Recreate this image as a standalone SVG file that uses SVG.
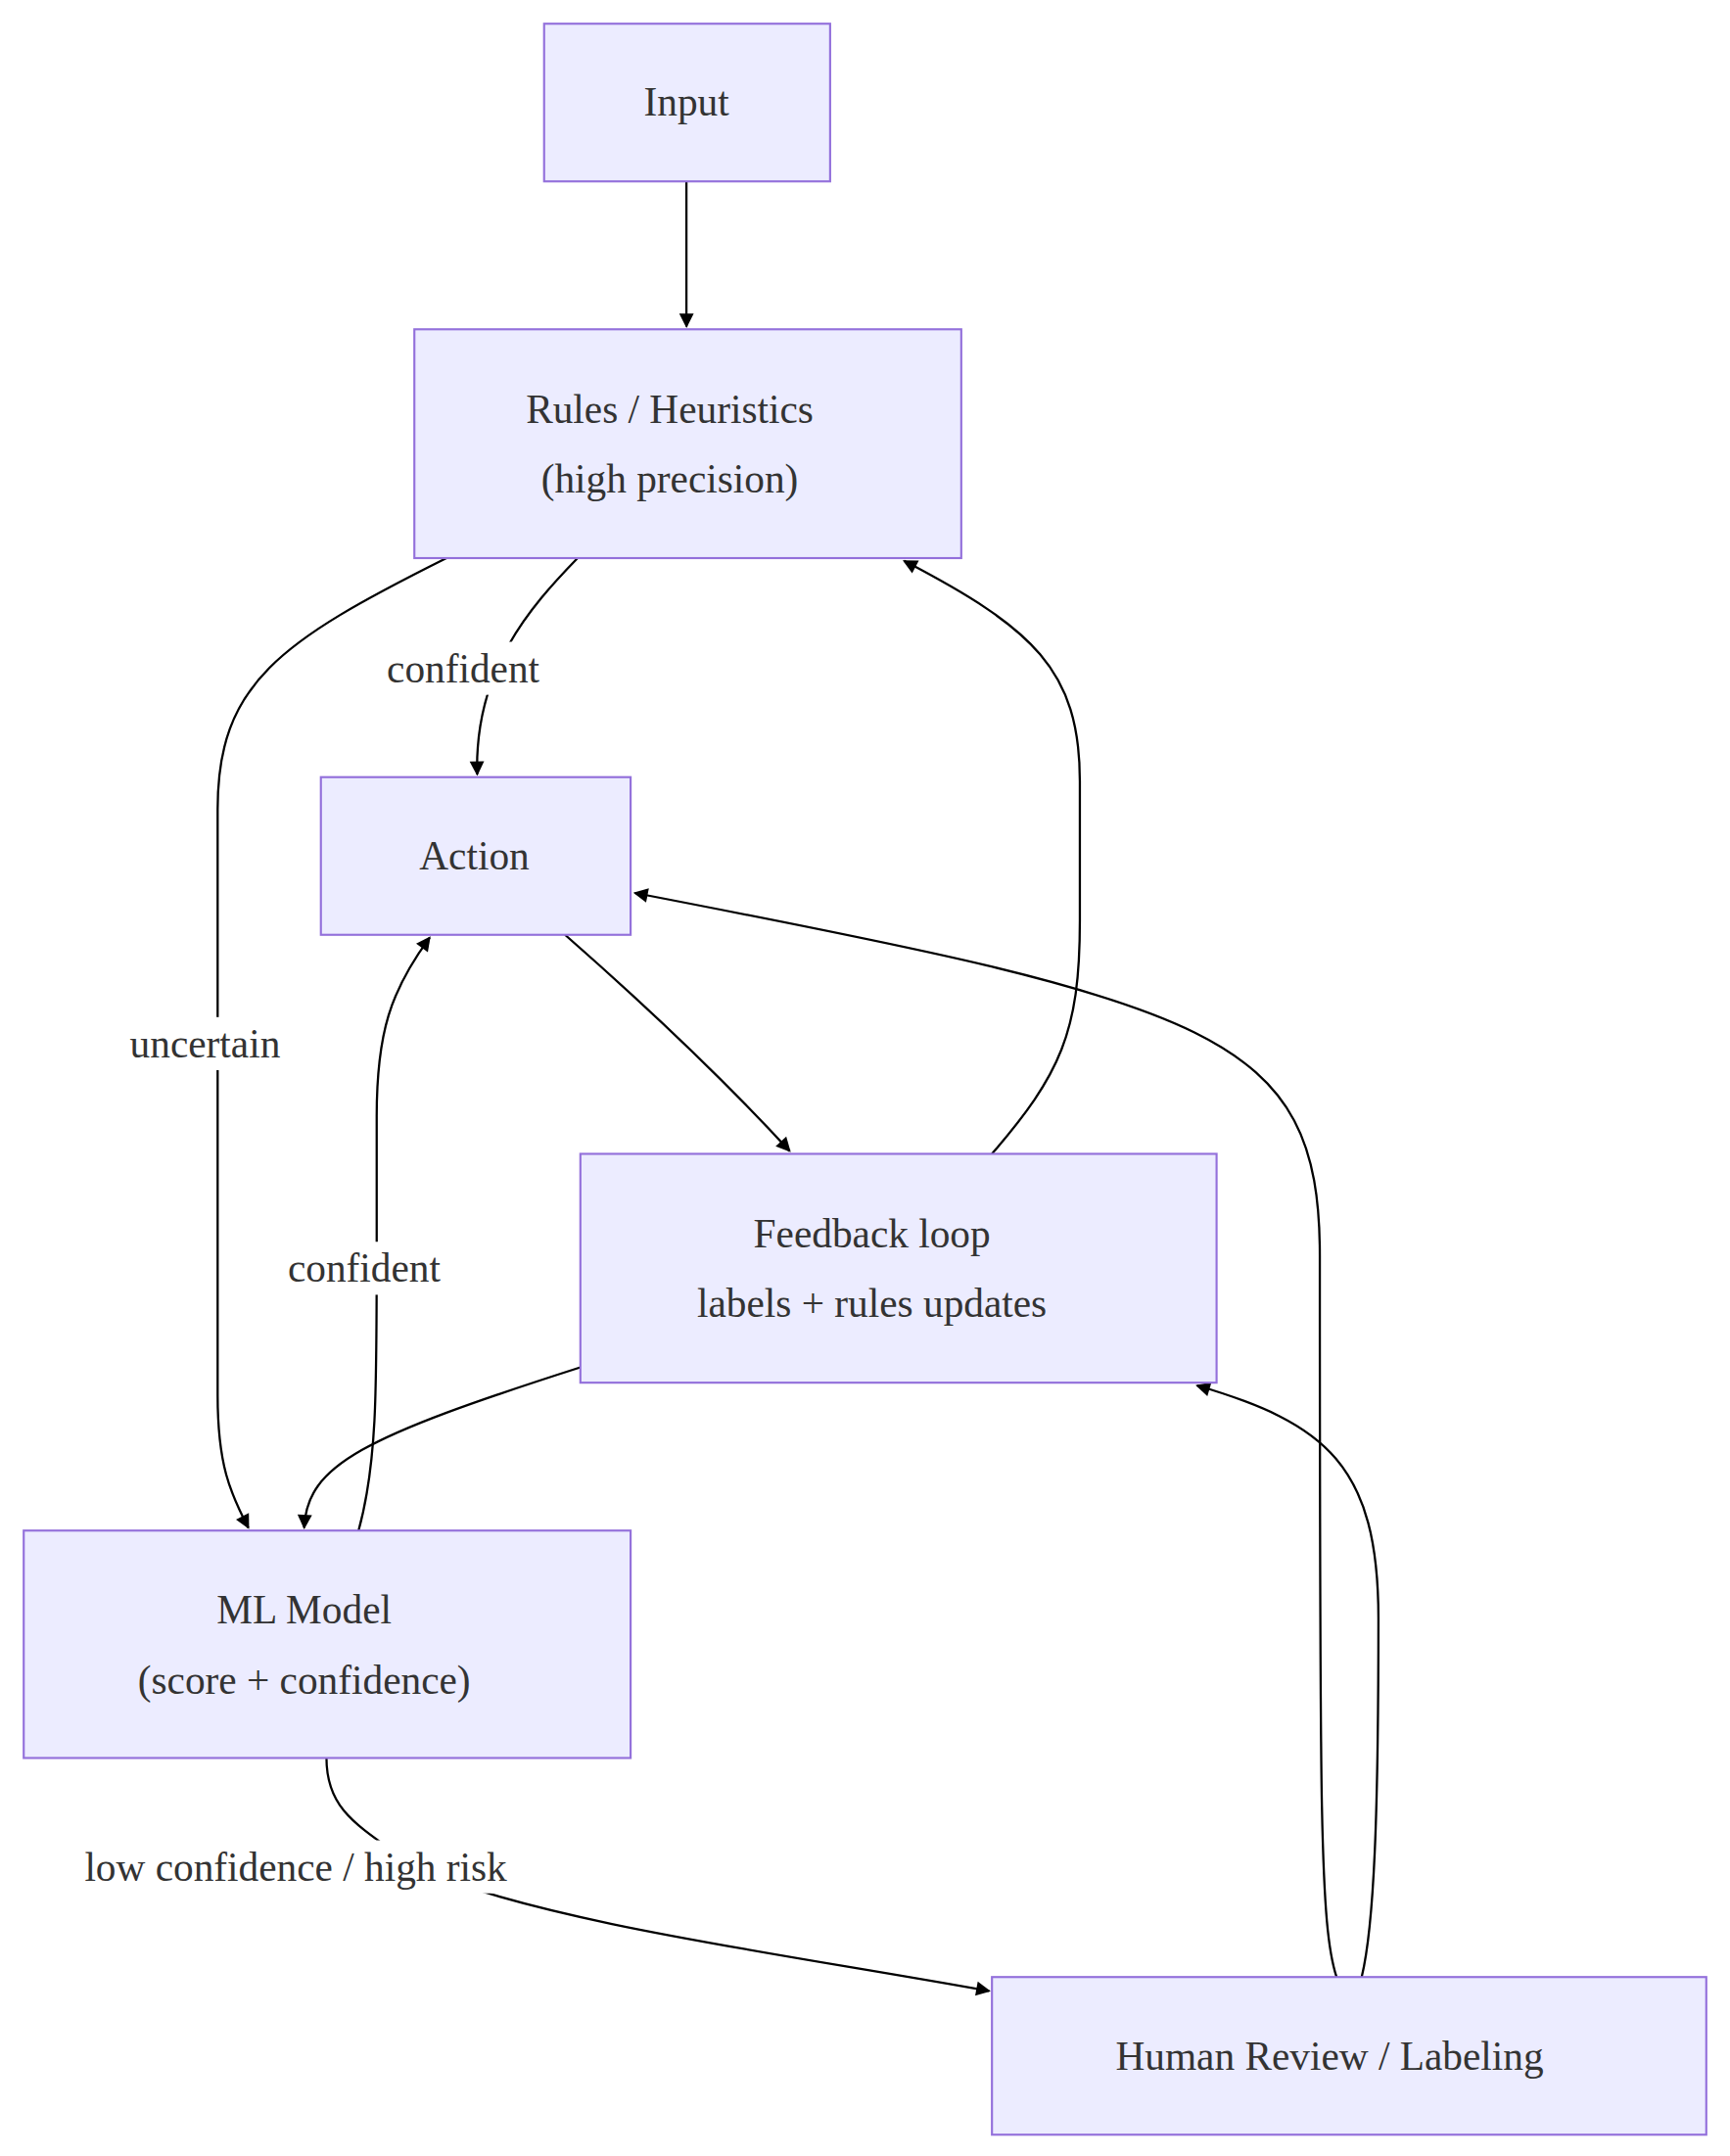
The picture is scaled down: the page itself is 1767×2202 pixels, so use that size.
<svg xmlns="http://www.w3.org/2000/svg" width="1767" height="2202" viewBox="0 0 1767 2202">
<style>
.n rect{fill:#ECECFF;stroke:#9370DB;stroke-width:1.5}
text{font-family:"Liberation Serif","Times New Roman",serif;font-size:29px;fill:#333;text-anchor:middle;dominant-baseline:central}
.e path{fill:none;stroke:#000;stroke-width:1.6;marker-end:url(#a)}
.lb{fill:#fff}
</style>
<defs><marker id="a" viewBox="0 0 10 10" refX="9" refY="5" markerWidth="8" markerHeight="8" orient="auto" markerUnits="userSpaceOnUse" style="overflow:visible"><path d="M0,0 L10,5 L0,10 z" fill="#000" transform="scale(1.3) translate(-2,-1.2)"/></marker></defs>
<rect width="1767" height="2202" fill="#fff"/>
<g transform="scale(1.425)">
<g id="connectors" class="e">
<path d="M492,130 L492,234"/>
<path d="M414,400 C380,435 340,480 342,555"/>
<path d="M320,400 C200,460 156,490 156,580 L156,1000 C156,1050 165,1070 178,1095"/>
<path d="M405,670 C470,727 520,775 566,825"/>
<path d="M711,827 C760,770 774,740 774,660 L774,560 C774,480 740,450 648,402"/>
<path d="M416,980 C260,1030 220,1050 218,1095"/>
<path d="M257,1097 C270,1050 270,1000 270,900 L270,800 C270,740 280,710 308,672"/>
<path d="M234,1260 C234,1300 260,1310 300,1340 C400,1380 560,1400 709,1427"/>
<path d="M958,1417 C946,1380 946,1300 946,900 C946,740 870,720 455,640"/>
<path d="M976,1417 C985,1380 988,1300 988,1160 C988,1050 950,1020 858,993"/>
</g>
<g id="labels">
<rect class="lb" x="266" y="460" width="132" height="38"/><text x="332" y="479">confident</text>
<rect class="lb" x="82" y="729" width="130" height="38"/><text x="147" y="748">uncertain</text>
<rect class="lb" x="195" y="890" width="132" height="38"/><text x="261" y="909">confident</text>
<rect class="lb" x="35" y="1319" width="355" height="38"/><text x="212" y="1338">low confidence / high risk</text>
</g>
<g id="input" class="n"><rect x="390" y="17" width="205" height="113"/><text x="492" y="73">Input</text></g>
<g id="rules" class="n"><rect x="297" y="236" width="392" height="164"/><text x="480" y="293">Rules / Heuristics</text><text x="480" y="343">(high precision)</text></g>
<g id="action" class="n"><rect x="230" y="557" width="222" height="113"/><text x="340" y="613">Action</text></g>
<g id="feedback" class="n"><rect x="416" y="827" width="456" height="164"/><text x="625" y="884">Feedback loop</text><text x="625" y="934">labels + rules updates</text></g>
<g id="ml" class="n"><rect x="17" y="1097" width="435" height="163"/><text x="218" y="1154">ML Model</text><text x="218" y="1204">(score + confidence)</text></g>
<g id="human" class="n"><rect x="711" y="1417" width="512" height="113"/><text x="953" y="1474">Human Review / Labeling</text></g>
</g>
</svg>
